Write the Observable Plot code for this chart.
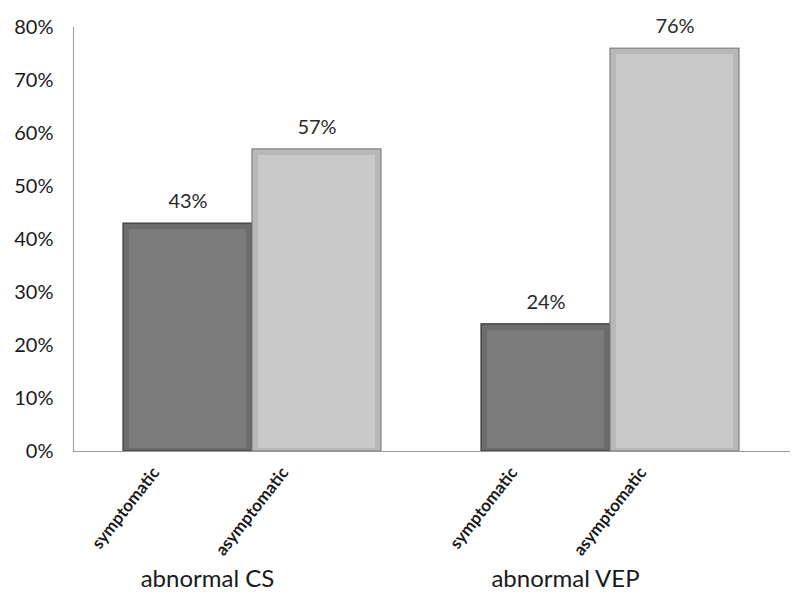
<!DOCTYPE html>
<html>
<head>
<meta charset="utf-8">
<script src="https://cdn.jsdelivr.net/npm/d3@7"></script>
<script src="https://cdn.jsdelivr.net/npm/@observablehq/plot@0.6"></script>
<style>
  html, body { margin: 0; padding: 0; background: #ffffff; }
</style>
</head>
<body>
<div id="chart"></div>
<script>
const groups = ["abnormal CS", "abnormal CS", "abnormal VEP", "abnormal VEP"];
const subgroups = ["symptomatic", "asymptomatic", "symptomatic", "asymptomatic"];
const values = [43, 57, 24, 76];
const yTicks = [0, 10, 20, 30, 40, 50, 60, 70, 80];

const groupDomain = ["abnormal CS", "abnormal VEP"];
const subDomain = ["symptomatic", "asymptomatic"];
const edgeColors = ["#6c6c6c", "#b8b8b8"];
const mainColors = ["#7b7b7b", "#c9c9c9"];
const strokeColors = ["#3a3a3a", "#808080"];

const data = values.map((v, i) => ({group: groups[i], sub: subgroups[i], value: v}));

const plot = Plot.plot({
  width: 797,
  height: 607,
  marginLeft: 72,
  marginRight: 8,
  marginTop: 27,
  marginBottom: 156,
  style: {fontFamily: "Lato, 'Open Sans', sans-serif", color: "#1a1a1a", background: "#fff"},
  fx: {domain: groupDomain, padding: 0, label: null},
  x: {domain: subDomain, paddingInner: 0, paddingOuter: 0.38, label: null},
  y: {domain: [0, 80], label: null},
  marks: [
    Plot.barY(data, {
      fx: "group", x: "sub", y: "value",
      fill: d => edgeColors[subDomain.indexOf(d.sub)],
      stroke: d => strokeColors[subDomain.indexOf(d.sub)],
      strokeWidth: 1.2
    }),
    Plot.barY(data, {
      fx: "group", x: "sub", y: "value",
      fill: d => mainColors[subDomain.indexOf(d.sub)],
      insetLeft: 6, insetRight: 6, insetTop: 6, insetBottom: 3
    }),
    Plot.text(data, {
      fx: "group", x: "sub", y: "value",
      text: d => d.value + "%",
      dy: -22, fontSize: 20, fill: "#2a2a2a"
    }),
    Plot.frame({anchor: "left", facet: "super", stroke: "#999"}),
    Plot.frame({anchor: "bottom", facet: "super", stroke: "#999"}),
    Plot.axisY({
      ticks: yTicks, tickFormat: d => d + "%", tickSize: 0, tickPadding: 20,
      fontSize: 20, label: null
    }),
    Plot.axisX({
      tickRotate: -52, tickSize: 0, tickPadding: 18, dx: -32,
      fontSize: 17, fontWeight: "bold", label: null
    }),
    Plot.axisFx({
      anchor: "bottom", tickSize: 0, tickPadding: 118, dx: -45,
      fontSize: 24, label: null
    })
  ]
});

document.getElementById("chart").appendChild(plot);
</script>
</body>
</html>
